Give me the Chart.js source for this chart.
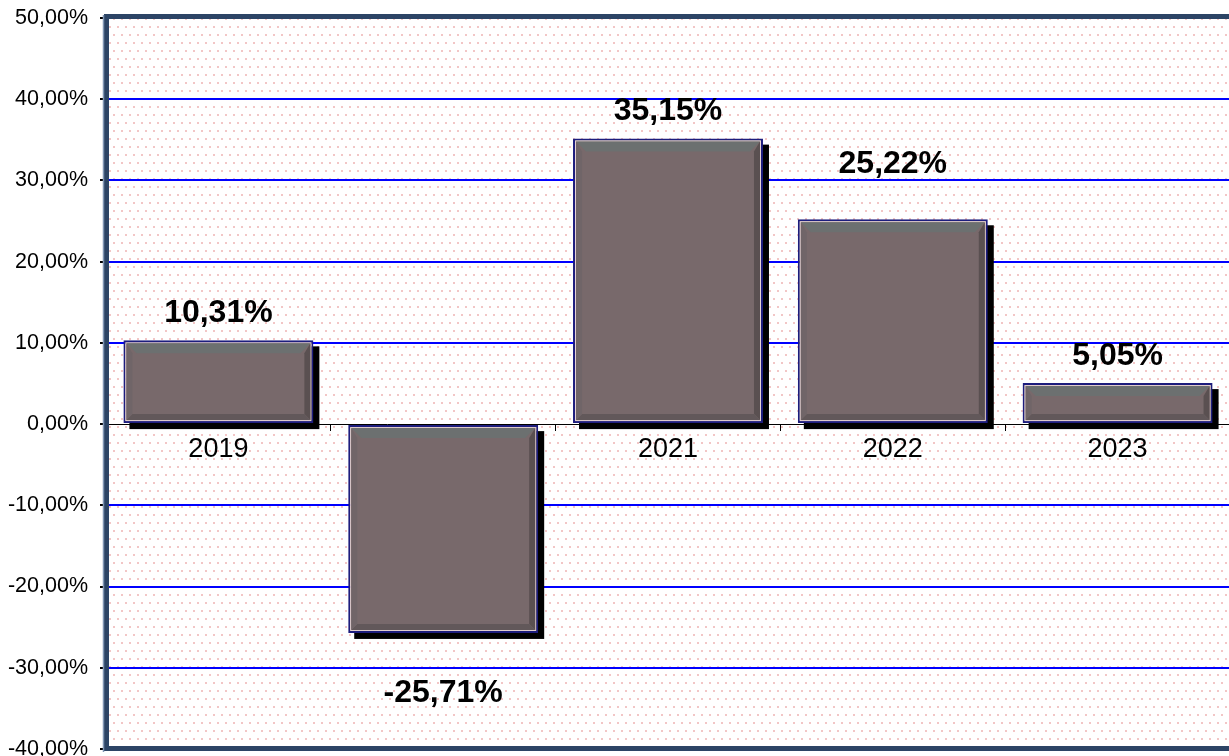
<!DOCTYPE html>
<html>
<head>
<meta charset="utf-8">
<script src="https://cdn.jsdelivr.net/npm/chart.js@4"></script>
<style>
  html, body { margin: 0; padding: 0; background: #fff; overflow: hidden; }
  #wrap { width: 1240px; height: 772px; }
</style>
</head>
<body>
<div id="wrap"><canvas id="returnsChart" width="1240" height="772"></canvas></div>
<script>
// yearly returns, in percent
const years = ['2019', '2020', '2021', '2022', '2023'];
const returns = [10.31, -25.71, 35.15, 25.22, 5.05];
const yMin = -40;
const yMax = 50;

// extra lift for a few value labels (the original moved them off the gridlines)
const labelLift = [0, 33, 0, 28, 0];

const fmtPct = v => v.toFixed(2).replace('.', ',') + '%';

function dotPattern(ctx) {
  const p = document.createElement('canvas');
  p.width = 16;
  p.height = 16;
  const pc = p.getContext('2d');
  pc.fillStyle = '#f2c6c6';
  pc.fillRect(1, 2, 2, 2);
  pc.fillRect(9, 2, 2, 2);
  pc.fillRect(5, 10, 2, 2);
  pc.fillRect(13, 10, 2, 2);
  return ctx.createPattern(p, 'repeat');
}

// dotted paper behind the plot
const paperPlugin = {
  id: 'paper',
  beforeDraw(chart) {
    const { ctx, chartArea: a } = chart;
    ctx.save();
    ctx.fillStyle = dotPattern(ctx);
    ctx.fillRect(a.left, a.top, a.right - a.left, a.bottom - a.top);
    ctx.restore();
  }
};

// drop shadow + bevel on the bars
const bevelPlugin = {
  id: 'bevel',
  beforeDatasetDraw(chart, args) {
    const { ctx } = chart;
    ctx.save();
    ctx.fillStyle = '#000';
    chart.getDatasetMeta(args.index).data.forEach(bar => {
      const left = bar.x - bar.width / 2;
      const top = Math.min(bar.y, bar.base);
      const h = Math.abs(bar.base - bar.y);
      ctx.fillRect(left + 6, top + 6, bar.width, h);
    });
    ctx.restore();
  },
  afterDatasetDraw(chart, args) {
    const { ctx } = chart;
    ctx.save();
    chart.getDatasetMeta(args.index).data.forEach(bar => {
      const l = bar.x - bar.width / 2 + 3;
      const r = bar.x + bar.width / 2 - 3;
      const t = Math.min(bar.y, bar.base) + 3;
      const b = Math.max(bar.y, bar.base) - 3;
      const d = 10;
      const s = 6;
      // light inner rim
      ctx.strokeStyle = 'rgba(245,225,225,0.9)';
      ctx.lineWidth = 1;
      ctx.strokeRect(l - 0.5, t - 0.5, r - l + 1, b - t + 1);
      // top bevel
      ctx.fillStyle = '#6c7070';
      ctx.beginPath();
      ctx.moveTo(l, t); ctx.lineTo(r, t); ctx.lineTo(r - d, t + d); ctx.lineTo(l + d, t + d);
      ctx.closePath(); ctx.fill();
      // right bevel
      ctx.fillStyle = '#5a5051';
      ctx.beginPath();
      ctx.moveTo(r, t); ctx.lineTo(r, b); ctx.lineTo(r - s, b - s); ctx.lineTo(r - s, t + d);
      ctx.closePath(); ctx.fill();
      // bottom bevel
      ctx.fillStyle = '#62585a';
      ctx.beginPath();
      ctx.moveTo(l, b); ctx.lineTo(r, b); ctx.lineTo(r - s, b - s); ctx.lineTo(l + s, b - s);
      ctx.closePath(); ctx.fill();
      // left bevel
      ctx.fillStyle = '#706568';
      ctx.beginPath();
      ctx.moveTo(l, t); ctx.lineTo(l, b); ctx.lineTo(l + s, b - s); ctx.lineTo(l + s, t + d);
      ctx.closePath(); ctx.fill();
    });
    ctx.restore();
  }
};

// bold percent labels above / below each bar
const valueLabels = {
  id: 'valueLabels',
  afterDatasetsDraw(chart) {
    const { ctx } = chart;
    ctx.save();
    ctx.font = 'bold 32px "Liberation Sans", Arial, sans-serif';
    ctx.fillStyle = '#000';
    ctx.textAlign = 'center';
    ctx.textBaseline = 'middle';
    chart.getDatasetMeta(0).data.forEach((bar, i) => {
      const v = returns[i];
      const gap = 27 + labelLift[i];
      const y = v >= 0 ? bar.y - gap : bar.y + gap;
      ctx.fillText(fmtPct(v), bar.x, y);
    });
    ctx.restore();
  }
};

// heavy frame round the plot
const framePlugin = {
  id: 'frame',
  afterDraw(chart) {
    const { ctx, chartArea: a } = chart;
    ctx.save();
    ctx.strokeStyle = '#2c4465';
    ctx.lineWidth = 5;
    ctx.strokeRect(a.left + 0.5, a.top - 1.5, a.right - a.left + 10, a.bottom - a.top + 1);
    ctx.strokeStyle = '#7f95b3';
    ctx.lineWidth = 1.5;
    ctx.beginPath();
    ctx.moveTo(a.left - 2.5, a.top - 3);
    ctx.lineTo(a.left - 2.5, a.bottom + 3);
    ctx.stroke();
    ctx.restore();
  }
};

const ctx = document.getElementById('returnsChart').getContext('2d');

new Chart(ctx, {
  type: 'bar',
  data: {
    labels: years,
    datasets: [{
      data: returns,
      backgroundColor: '#78696b',
      borderColor: '#1d1d7d',
      borderWidth: 2,
      borderSkipped: false,
      categoryPercentage: 1,
      barPercentage: 0.845
    }]
  },
  options: {
    responsive: false,
    animation: false,
    layout: { padding: { top: 18, right: 10, bottom: 23, left: 0 } },
    plugins: {
      legend: { display: false },
      tooltip: { enabled: false }
    },
    scales: {
      x: {
        position: { y: 0 },
        offset: true,
        grid: {
          drawOnChartArea: false,
          drawTicks: true,
          tickLength: 6,
          tickColor: '#000',
          offset: true
        },
        border: { display: true, color: '#000', width: 1 },
        ticks: {
          color: '#000',
          padding: 3,
          font: { family: '"Liberation Sans", Arial, sans-serif', size: 27 }
        }
      },
      y: {
        min: yMin,
        max: yMax,
        afterFit(scale) {
          // let the end labels hang over the edge like the original
          scale.paddingTop = 0;
          scale.paddingBottom = 0;
          scale.width = 106;
        },
        grid: {
          color: ctx => (ctx.tick && (ctx.tick.value === 0 || ctx.tick.value === yMin || ctx.tick.value === yMax)) ? 'rgba(0,0,0,0)' : '#0000ff',
          lineWidth: 2,
          tickLength: 6,
          tickColor: '#000'
        },
        border: { display: false },
        ticks: {
          stepSize: 10,
          color: '#000',
          padding: 12,
          font: { family: '"Liberation Sans", Arial, sans-serif', size: 21.5 },
          callback: v => fmtPct(v)
        }
      }
    }
  },
  plugins: [paperPlugin, bevelPlugin, valueLabels, framePlugin]
});
</script>
</body>
</html>
